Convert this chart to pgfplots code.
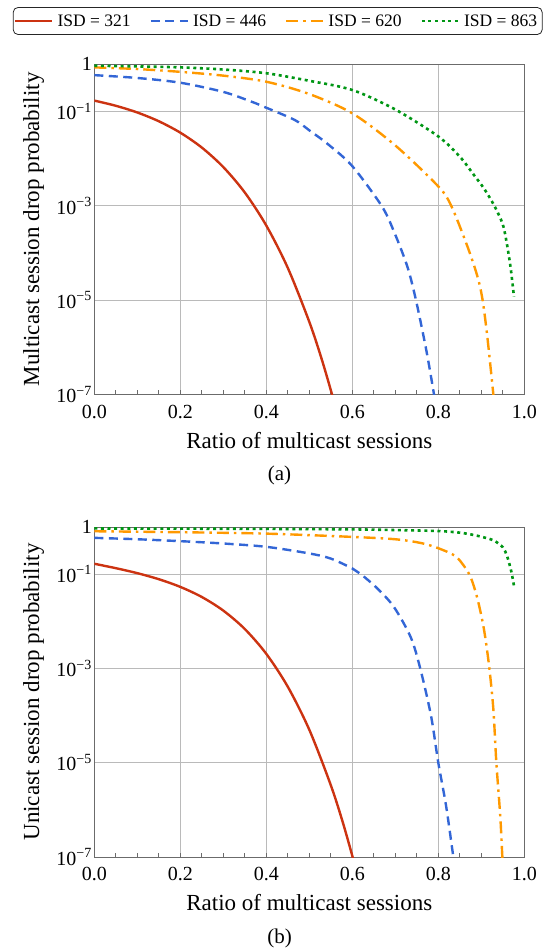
\documentclass[border=0pt]{standalone}
\usepackage{fontspec}
\setmainfont{Liberation Serif}
\usepackage{pgfplots}
\pgfplotsset{compat=1.18}

\definecolor{cRed}{RGB}{204,51,17}
\definecolor{cBlue}{RGB}{51,102,214}
\definecolor{cOrange}{RGB}{255,153,0}
\definecolor{cGreen}{RGB}{0,150,20}

\tikzset{
  sRed/.style={draw=cRed, line width=2.4pt},
  sBlue/.style={draw=cBlue, line width=2.4pt, dash pattern=on 9pt off 5.5pt},
  sOrange/.style={draw=cOrange, line width=2.4pt, dash pattern=on 12pt off 5pt on 2.5pt off 5pt},
  sGreen/.style={draw=cGreen, line width=2.6pt, dash pattern=on 3pt off 3.6pt},
}
\pgfplotsset{legend image code/.code={\draw[#1] (0pt,0pt) -- (37pt,0pt);}}

\begin{document}
\begin{tikzpicture}[x=1pt,y=1pt]
\useasboundingbox (0,0) rectangle (546,-948);

% ---------- (a) multicast ----------
\begin{axis}[
  at={(94.3pt,-394.3pt)}, anchor=south west,
  scale only axis, width=430pt, height=330pt,
  xmin=0, xmax=1, ymode=log, ymin=1e-7, ymax=1,
  xtick={0,0.2,0.4,0.6,0.8,1.0},
  xticklabels={0.0,0.2,0.4,0.6,0.8,1.0},
  minor x tick num=3,
  ytick={1,1e-1,1e-3,1e-5,1e-7},
  yticklabels={1,10\textsuperscript{−1},10\textsuperscript{−3},10\textsuperscript{−5},10\textsuperscript{−7}},
  grid=major,
  major grid style={black!27, line width=0.7pt},
  axis line style={black!58, line width=0.9pt},
  tick align=inside, xtick pos=bottom,
  ytick style={draw=none},
  minor tick length=4pt, major tick length=4pt,
  tick style={black!58, line width=0.8pt},
  tick label style={font=\fontsize{20}{20}\selectfont},
  xticklabel style={yshift=-7pt},
  yticklabel style={xshift=1pt},
  label style={font=\fontsize{23}{23}\selectfont},
  xlabel={Ratio of multicast sessions},
  xlabel style={at={(axis description cs:0.5,-0.139)}, anchor=center},
  ylabel={Multicast session drop probability},
  ylabel style={at={(axis description cs:-0.141,0.5)}, anchor=center},
  legend columns=4,
  legend style={at={(0.4265,1.1736)}, anchor=north,
    draw=black!85, line width=0.8pt, rounded corners=5pt,
    inner xsep=1pt, inner ysep=5pt,
    font=\fontsize{17.5}{17.5}\selectfont,
    nodes={inner xsep=4pt},
    /tikz/every even column/.append style={column sep=15pt}},
]
\addplot[sRed, smooth] coordinates {
(0,0.170) (0.05,0.132) (0.1,0.0951) (0.15,0.0620) (0.2,0.0355) (0.25,0.01715)
(0.3,6.61e-3) (0.35,1.91e-3) (0.4,3.80e-4) (0.45,4.80e-5) (0.5,3.44e-6)
(0.53,5.15e-7) (0.56,5.90e-8)
};
\addlegendentry{ISD = 321}
\addplot[sBlue, smooth] coordinates {
(0,0.589) (0.1,0.513) (0.2,0.407) (0.3,0.260) (0.365,0.162) (0.4,0.120)
(0.466,0.0661) (0.5,0.0398) (0.544,0.0200) (0.6,6.92e-3) (0.668,1.0e-3)
(0.697,2.82e-4) (0.728,5.13e-5) (0.748,1.0e-5) (0.772,8.71e-7) (0.79,1.0e-7) (0.795,5e-8)
};
\addlegendentry{ISD = 446}
\addplot[sOrange, smooth] coordinates {
(0,0.861) (0.1,0.794) (0.2,0.692) (0.3,0.575) (0.4,0.427) (0.5,0.234)
(0.6,0.0912) (0.7,0.0190) (0.8,2.57e-3) (0.83,1.0e-3) (0.868,1.35e-4)
(0.891,3.16e-5) (0.903,1.0e-5) (0.914,1.66e-6) (0.928,1e-7) (0.932,4e-8)
};
\addlegendentry{ISD = 620}
\addplot[sGreen, smooth] coordinates {
(0,0.933) (0.1,0.902) (0.2,0.861) (0.3,0.776) (0.4,0.646) (0.5,0.447)
(0.6,0.285) (0.7,0.110) (0.8,0.0295) (0.85,0.0110) (0.883,4.47e-3)
(0.906,2.34e-3) (0.929,1.05e-3) (0.949,4.27e-4) (0.958,1.86e-4)
(0.968,5.0e-5) (0.976,1.17e-5)
};
\addlegendentry{ISD = 863}
\end{axis}

% ---------- (b) unicast ----------
\begin{axis}[
  at={(94.3pt,-857pt)}, anchor=south west,
  scale only axis, width=430pt, height=330pt,
  xmin=0, xmax=1, ymode=log, ymin=1e-7, ymax=1,
  xtick={0,0.2,0.4,0.6,0.8,1.0},
  xticklabels={0.0,0.2,0.4,0.6,0.8,1.0},
  minor x tick num=3,
  ytick={1,1e-1,1e-3,1e-5,1e-7},
  yticklabels={1,10\textsuperscript{−1},10\textsuperscript{−3},10\textsuperscript{−5},10\textsuperscript{−7}},
  grid=major,
  major grid style={black!27, line width=0.7pt},
  axis line style={black!58, line width=0.9pt},
  tick align=inside, xtick pos=bottom,
  ytick style={draw=none},
  minor tick length=4pt, major tick length=4pt,
  tick style={black!58, line width=0.8pt},
  tick label style={font=\fontsize{20}{20}\selectfont},
  xticklabel style={yshift=-7pt},
  yticklabel style={xshift=1pt},
  label style={font=\fontsize{23}{23}\selectfont},
  xlabel={Ratio of multicast sessions},
  xlabel style={at={(axis description cs:0.5,-0.139)}, anchor=center},
  ylabel={Unicast session drop probability},
  ylabel style={at={(axis description cs:-0.141,0.5)}, anchor=center},
]
\addplot[sRed, smooth] coordinates {
(0,0.166) (0.05,0.134) (0.1,0.105) (0.15,0.0782) (0.2,0.0537) (0.25,0.0328)
(0.3,0.01687) (0.35,6.86e-3) (0.4,2.04e-3) (0.45,4.09e-4) (0.5,5.01e-5)
(0.55,3.34e-6) (0.58,4.70e-7) (0.61,4.93e-8)
};
\addplot[sBlue, smooth] coordinates {
(0,0.589) (0.1,0.550) (0.2,0.501) (0.3,0.447) (0.4,0.380) (0.5,0.275)
(0.55,0.214) (0.6,0.132) (0.62,0.100) (0.659,0.049) (0.697,0.020)
(0.736,4.57e-3) (0.758,1e-3) (0.783,1e-4) (0.80,1e-5) (0.818,1.23e-6)
(0.835,1e-7) (0.84,5e-8)
};
\addplot[sOrange, smooth] coordinates {
(0,0.813) (0.2,0.776) (0.4,0.724) (0.6,0.617) (0.7,0.550) (0.76,0.457)
(0.8,0.355) (0.837,0.251) (0.856,0.166) (0.875,0.0871) (0.891,0.0302)
(0.906,6.92e-3) (0.918,1.15e-3) (0.928,1.38e-4) (0.935,1e-5)
(0.944,7.6e-7) (0.949,1e-7) (0.952,4e-8)
};
\addplot[sGreen, smooth] coordinates {
(0,0.933) (0.2,0.923) (0.4,0.912) (0.6,0.891) (0.7,0.861) (0.8,0.822)
(0.85,0.759) (0.883,0.676) (0.91,0.589) (0.93,0.513) (0.95,0.372)
(0.96,0.240) (0.97,0.112) (0.977,0.050)
};
\end{axis}

\node[font=\fontsize{21}{21}\selectfont] at (279.5,-475) {(a)};
\node[font=\fontsize{21}{21}\selectfont] at (279.5,-938) {(b)};
\end{tikzpicture}
\end{document}
